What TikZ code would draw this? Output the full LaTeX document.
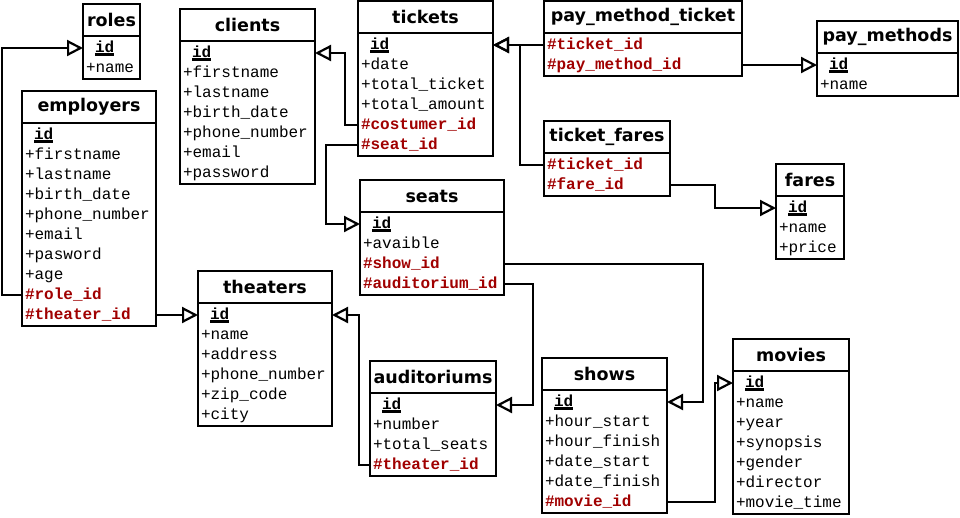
\documentclass[tikz,border=0pt]{standalone}
\usepackage{fontspec}
\setmonofont{Liberation Mono}
\newfontfamily\headfont{DejaVu Sans}
\usetikzlibrary{arrows.meta,positioning}
\definecolor{fkred}{RGB}{160,0,0}
\newcommand{\pkey}[1]{\setbox0=\hbox{#1}\rlap{\rule[-3.5pt]{\wd0}{2.5pt}}\box0}

\begin{document}
\begin{tikzpicture}[x=1pt, y=-1pt,
tblhead/.style={draw, line width=2.2pt, outer sep=0pt, inner xsep=3pt, inner ysep=0pt, minimum height=32pt, anchor=north west, align=center, font=\headfont\bfseries\fontsize{17.5}{20}\selectfont},
fld/.style={outer sep=0pt, inner xsep=3pt, inner ysep=0pt, minimum height=20pt, text height=12pt, text depth=4pt, align=left, font=\ttfamily\fontsize{16}{20}\selectfont},
pkfld/.style={fld, font=\ttfamily\bfseries\fontsize{16}{20}\selectfont},
fkfld/.style={fld, text=fkred, font=\ttfamily\bfseries\fontsize{16}{20}\selectfont},
tblbox/.style={draw, line width=2.2pt},
fk/.style={line width=2.2pt, -{Triangle[open, length=16pt, width=16pt]}},
]
\useasboundingbox (0,0) rectangle (960,517);

%Nodes
\begin{scope}[every node/.append style={text width=51pt}]
\node[tblhead] (roles) at (83,4) {roles};
\node[pkfld, below=2pt of roles] (rolesid) {\hspace*{9pt}\pkey{id}};
\node[fld, below=0pt of rolesid] (rolesname) {+name};
\end{scope}
\draw[tblbox] (roles.south west) rectangle ([yshift=-1pt]rolesname.south east);

\begin{scope}[every node/.append style={text width=129pt}]
\node[tblhead] (clients) at (180,9) {clients};
\node[pkfld, below=2pt of clients] (cliid) {\hspace*{9pt}\pkey{id}};
\node[fld, below=0pt of cliid] (clifirst) {+firstname};
\node[fld, below=0pt of clifirst] (clilast) {+lastname};
\node[fld, below=0pt of clilast] (clibirth) {+birth\_date};
\node[fld, below=0pt of clibirth] (cliphone) {+phone\_number};
\node[fld, below=0pt of cliphone] (climail) {+email};
\node[fld, below=0pt of climail] (clipass) {+password};
\end{scope}
\draw[tblbox] (clients.south west) rectangle ([yshift=-1pt]clipass.south east);

\begin{scope}[every node/.append style={text width=128pt}]
\node[tblhead] (employers) at (22,91) {employers};
\node[pkfld, below=2pt of employers] (empid) {\hspace*{9pt}\pkey{id}};
\node[fld, below=0pt of empid] (empfirst) {+firstname};
\node[fld, below=0pt of empfirst] (emplast) {+lastname};
\node[fld, below=0pt of emplast] (empbirth) {+birth\_date};
\node[fld, below=0pt of empbirth] (empphone) {+phone\_number};
\node[fld, below=0pt of empphone] (empmail) {+email};
\node[fld, below=0pt of empmail] (emppass) {+pasword};
\node[fld, below=0pt of emppass] (empage) {+age};
\node[fkfld, below=0pt of empage] (emprole) {\#role\_id};
\node[fkfld, below=0pt of emprole] (emptheater) {\#theater\_id};
\end{scope}
\draw[tblbox] (employers.south west) rectangle ([yshift=-1pt]emptheater.south east);

\begin{scope}[every node/.append style={text width=129pt}]
\node[tblhead] (tickets) at (358,1) {tickets};
\node[pkfld, below=2pt of tickets] (tickid) {\hspace*{9pt}\pkey{id}};
\node[fld, below=0pt of tickid] (tickdate) {+date};
\node[fld, below=0pt of tickdate] (ticktotal) {+total\_ticket};
\node[fld, below=0pt of ticktotal] (tickamount) {+total\_amount};
\node[fkfld, below=0pt of tickamount] (tickcost) {\#costumer\_id};
\node[fkfld, below=0pt of tickcost] (tickseat) {\#seat\_id};
\end{scope}
\draw[tblbox] (tickets.south west) rectangle ([yshift=-1pt]tickseat.south east);

\begin{scope}[every node/.append style={text width=192pt}]
\node[tblhead] (paymethodticket) at (544,1) {pay\_method\_ticket};
\node[fkfld, below=2pt of paymethodticket] (pmtticket) {\#ticket\_id};
\node[fkfld, below=0pt of pmtticket] (pmtmethod) {\#pay\_method\_id};
\end{scope}
\draw[tblbox] (paymethodticket.south west) rectangle ([yshift=-1pt]pmtmethod.south east);

\begin{scope}[every node/.append style={text width=135pt}]
\node[tblhead] (paymethods) at (817,21) {pay\_methods};
\node[pkfld, below=2pt of paymethods] (pmid) {\hspace*{9pt}\pkey{id}};
\node[fld, below=0pt of pmid] (pmname) {+name};
\end{scope}
\draw[tblbox] (paymethods.south west) rectangle ([yshift=-1pt]pmname.south east);

\begin{scope}[every node/.append style={text width=120pt}]
\node[tblhead] (ticketfares) at (544,121) {ticket\_fares};
\node[fkfld, below=2pt of ticketfares] (tfticket) {\#ticket\_id};
\node[fkfld, below=0pt of tfticket] (tffare) {\#fare\_id};
\end{scope}
\draw[tblbox] (ticketfares.south west) rectangle ([yshift=-1pt]tffare.south east);

\begin{scope}[every node/.append style={text width=62pt}]
\node[tblhead] (fares) at (776,164) {fares};
\node[pkfld, below=2pt of fares] (fareid) {\hspace*{9pt}\pkey{id}};
\node[fld, below=0pt of fareid] (farename) {+name};
\node[fld, below=0pt of farename] (fareprice) {+price};
\end{scope}
\draw[tblbox] (fares.south west) rectangle ([yshift=-1pt]fareprice.south east);

\begin{scope}[every node/.append style={text width=138pt}]
\node[tblhead] (seats) at (360,180) {seats};
\node[pkfld, below=2pt of seats] (seatid) {\hspace*{9pt}\pkey{id}};
\node[fld, below=0pt of seatid] (seatfree) {+avaible};
\node[fkfld, below=0pt of seatfree] (seatshow) {\#show\_id};
\node[fkfld, below=0pt of seatshow] (seataud) {\#auditorium\_id};
\end{scope}
\draw[tblbox] (seats.south west) rectangle ([yshift=-1pt]seataud.south east);

\begin{scope}[every node/.append style={text width=128pt}]
\node[tblhead] (theaters) at (198,271) {theaters};
\node[pkfld, below=2pt of theaters] (thid) {\hspace*{9pt}\pkey{id}};
\node[fld, below=0pt of thid] (thname) {+name};
\node[fld, below=0pt of thname] (thaddress) {+address};
\node[fld, below=0pt of thaddress] (thphone) {+phone\_number};
\node[fld, below=0pt of thphone] (thzip) {+zip\_code};
\node[fld, below=0pt of thzip] (thcity) {+city};
\end{scope}
\draw[tblbox] (theaters.south west) rectangle ([yshift=-1pt]thcity.south east);

\begin{scope}[every node/.append style={text width=120pt}]
\node[tblhead] (auditoriums) at (370,361) {auditoriums};
\node[pkfld, below=2pt of auditoriums] (audid) {\hspace*{9pt}\pkey{id}};
\node[fld, below=0pt of audid] (audnumber) {+number};
\node[fld, below=0pt of audnumber] (audseats) {+total\_seats};
\node[fkfld, below=0pt of audseats] (audtheater) {\#theater\_id};
\end{scope}
\draw[tblbox] (auditoriums.south west) rectangle ([yshift=-1pt]audtheater.south east);

\begin{scope}[every node/.append style={text width=119pt}]
\node[tblhead] (shows) at (542,358) {shows};
\node[pkfld, below=2pt of shows] (showid) {\hspace*{9pt}\pkey{id}};
\node[fld, below=0pt of showid] (showhstart) {+hour\_start};
\node[fld, below=0pt of showhstart] (showhfinish) {+hour\_finish};
\node[fld, below=0pt of showhfinish] (showdstart) {+date\_start};
\node[fld, below=0pt of showdstart] (showdfinish) {+date\_finish};
\node[fkfld, below=0pt of showdfinish] (showmovie) {\#movie\_id};
\end{scope}
\draw[tblbox] (shows.south west) rectangle ([yshift=-1pt]showmovie.south east);

\begin{scope}[every node/.append style={text width=110pt}]
\node[tblhead] (movies) at (733,339) {movies};
\node[pkfld, below=2pt of movies] (movid) {\hspace*{9pt}\pkey{id}};
\node[fld, below=0pt of movid] (movname) {+name};
\node[fld, below=0pt of movname] (movyear) {+year};
\node[fld, below=0pt of movyear] (movsyn) {+synopsis};
\node[fld, below=0pt of movsyn] (movgender) {+gender};
\node[fld, below=0pt of movgender] (movdirector) {+director};
\node[fld, below=0pt of movdirector] (movtime) {+movie\_time};
\end{scope}
\draw[tblbox] (movies.south west) rectangle ([yshift=-1pt]movtime.south east);

%Lines
\draw[fk] (emprole.west) -- ++(-20,0) |- (rolesid.west);
\draw[fk] (emptheater.east) -- (thid.west);
\draw[fk] (tickcost.west) -- ++(-13,0) |- (cliid.east);
\draw[fk] (tickseat.west) -- ++(-32,0) |- (seatid.west);
\draw[fk] (pmtticket.west) -- (tickid.east);
\draw[fk] (tfticket.west) -- ++(-24,0) |- (tickid.east);
\draw[fk] (pmtmethod.east) -- (pmid.west);
\draw[fk] (tffare.east) -- ++(45,0) |- (fareid.west);
\draw[fk] (seatshow.east) -- ++(199,0) |- (showid.east);
\draw[fk] (seataud.east) -- ++(29,0) |- (audid.east);
\draw[fk] (audtheater.west) -- ++(-11,0) |- (thid.east);
\draw[fk] (showmovie.east) -- ++(48,0) |- (movid.west);
\end{tikzpicture}
\end{document}
